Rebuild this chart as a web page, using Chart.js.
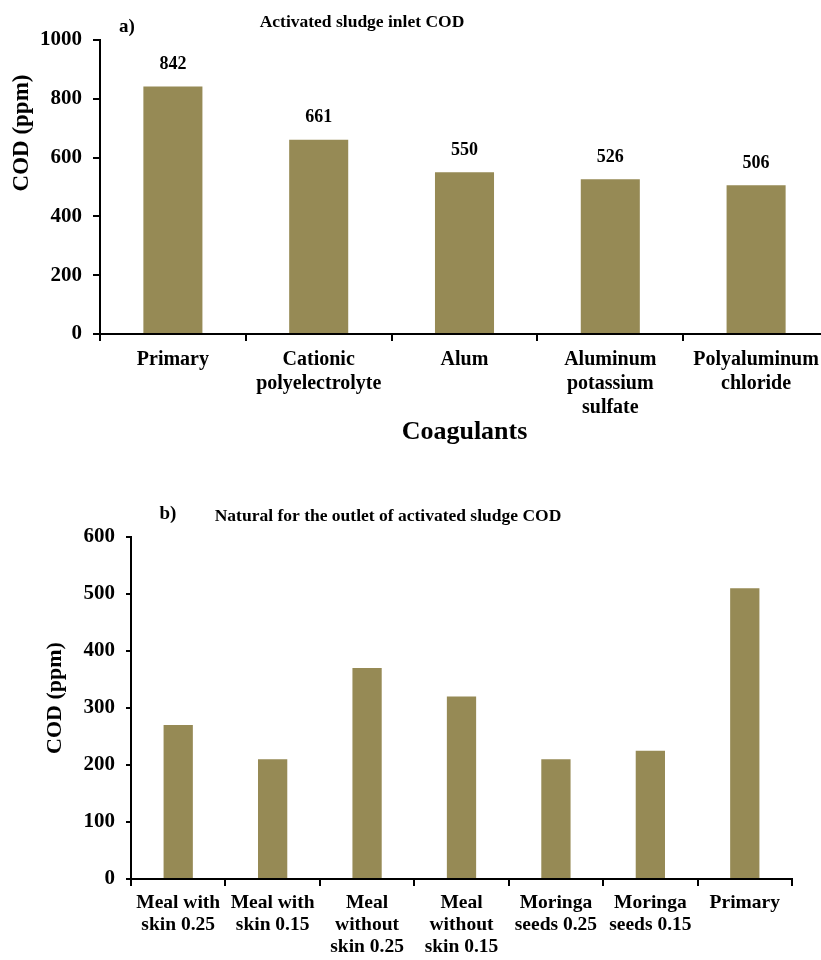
<!DOCTYPE html>
<html><head><meta charset="utf-8">
<script src="https://cdn.jsdelivr.net/npm/chart.js@4.4.1/dist/chart.umd.min.js"></script>
<style>
html,body{margin:0;padding:0;background:#fff;overflow:hidden;width:821px;height:960px;position:relative;}
#wa{position:absolute;left:0;top:0;width:845px;height:450px;}
#wb{position:absolute;left:0;top:480px;width:821px;height:480px;}
</style></head><body>
<div id="wa"><canvas id="ca"></canvas></div>
<div id="wb"><canvas id="cb"></canvas></div>
<script>
// ---- data ----
const coagulantLabels = [['Primary'], ['Cationic', 'polyelectrolyte'], ['Alum'], ['Aluminum', 'potassium', 'sulfate'], ['Polyaluminum', 'chloride']];
const inletCOD = [842, 661, 550, 526, 506];
const inletTicks = [0, 200, 400, 600, 800, 1000];

const naturalLabels = [['Meal with', 'skin 0.25'], ['Meal with', 'skin 0.15'], ['Meal', 'without', 'skin 0.25'], ['Meal', 'without', 'skin 0.15'], ['Moringa', 'seeds 0.25'], ['Moringa', 'seeds 0.15'], ['Primary']];
const outletCOD = [270, 210, 370, 320, 210, 225, 510];
const outletTicks = [0, 100, 200, 300, 400, 500, 600];

const titleA = 'Activated sludge inlet COD';
const titleB = 'Natural for the outlet of activated sludge COD';
const yTitle = 'COD (ppm)';
const xTitleA = 'Coagulants';

// ---- styles ----
const FAM = '"Liberation Serif", "Times New Roman", serif';
const BAR = '#968a55';

const panelPlugin = {
  id: 'panelText',
  afterDraw(chart, args, opts) {
    const ctx = chart.ctx;
    ctx.save();
    ctx.fillStyle = '#000';
    ctx.textBaseline = 'middle';
    if (opts.values) {
      const meta = chart.getDatasetMeta(0);
      ctx.font = 'bold 18px ' + FAM;
      ctx.textAlign = 'center';
      meta.data.forEach((bar, i) => {
        ctx.fillText(String(chart.data.datasets[0].data[i]), bar.x, bar.y - 22);
      });
    }
    ctx.textAlign = 'center';
    ctx.font = 'bold 19px ' + FAM;
    ctx.fillText(opts.letter, opts.letterX, opts.letterY);
    ctx.font = 'bold 17.5px ' + FAM;
    ctx.fillText(opts.title, opts.titleX, opts.titleY);
    // y axis title
    ctx.translate(opts.yTitleX, opts.yTitleY);
    ctx.rotate(-Math.PI / 2);
    ctx.font = 'bold ' + opts.yTitleSize + 'px ' + FAM;
    ctx.fillText(yTitle, 0, 0);
    ctx.restore();
  }
};

function makeChart(id, labels, values, ticks, cfg) {
  return new Chart(document.getElementById(id), {
    type: 'bar',
    data: {
      labels: labels,
      datasets: [{ data: values, backgroundColor: BAR, borderWidth: 0,
        categoryPercentage: 1, barPercentage: cfg.barPct }]
    },
    options: {
      responsive: true, maintainAspectRatio: false, animation: false,
      layout: { padding: cfg.padding },
      plugins: { legend: { display: false }, tooltip: { enabled: false }, title: { display: false },
        panelText: cfg.panel },
      scales: {
        x: {
          grid: { display: true, drawOnChartArea: false, drawTicks: true, tickLength: 7, color: '#000', lineWidth: 2, offset: true },
          border: { display: true, color: '#000', width: 2 },
          ticks: { color: '#000', font: { family: FAM, weight: 'bold', size: cfg.xFont, lineHeight: cfg.xLine }, padding: cfg.xPad, maxRotation: 0, autoSkip: false },
          title: cfg.xTitle ? { display: true, text: cfg.xTitle, color: '#000', font: { family: FAM, weight: 'bold', size: 26 }, padding: { top: 0, bottom: 2 } } : { display: false },
          afterFit: s => { s.height = cfg.xHeight; }
        },
        y: {
          min: ticks[0], max: ticks[ticks.length - 1],
          afterBuildTicks: s => { s.ticks = ticks.map(v => ({ value: v })); },
          grid: { display: true, drawOnChartArea: false, drawTicks: true, tickLength: cfg.yTickLen, color: '#000', lineWidth: 2 },
          border: { display: true, color: '#000', width: 2 },
          ticks: { color: '#000', font: { family: FAM, weight: 'bold', size: cfg.yFont }, padding: cfg.yPad, callback: v => String(v) },
          afterFit: s => { s.width = cfg.yWidth; }
        }
      }
    },
    plugins: [panelPlugin]
  });
}

makeChart('ca', coagulantLabels, inletCOD, inletTicks, {
  barPct: 0.405,
  padding: { top: 40, left: 0, right: 16, bottom: 0 },
  xFont: 20, xLine: 1.2, xPad: 7, xHeight: 116, xTitle: xTitleA,
  yTickLen: 7, yPad: 11, yWidth: 100, yFont: 21,
  panel: { values: true, letter: 'a)', letterX: 127, letterY: 27, title: titleA, titleX: 362, titleY: 22,
    yTitleX: 22, yTitleY: 133, yTitleSize: 23 }
});

makeChart('cb', naturalLabels, outletCOD, outletTicks, {
  barPct: 0.31,
  padding: { top: 57, left: 0, right: 29, bottom: 0 },
  xFont: 19.5, xLine: 1.13, xPad: 6, xHeight: 81, xTitle: null,
  yTickLen: 5, yPad: 11, yWidth: 131, yFont: 21,
  panel: { values: false, letter: 'b)', letterX: 168, letterY: 34, title: titleB, titleX: 388, titleY: 36,
    yTitleX: 55, yTitleY: 218, yTitleSize: 22 }
});
</script>
</body></html>
